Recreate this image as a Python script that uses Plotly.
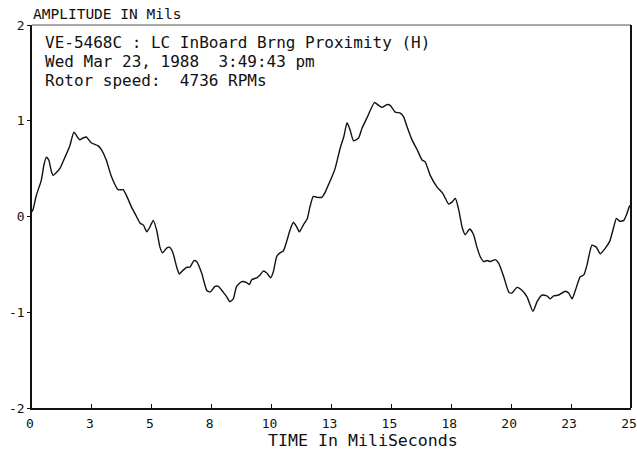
import plotly.graph_objects as go

# Time (ms) and amplitude (mils)
time_ms = [0.00, 0.04, 0.18, 0.39, 0.50, 0.60, 0.70, 0.81, 0.88, 1.16, 1.36, 1.57, 1.75, 1.99, 2.13, 2.27,
           2.47, 2.75, 2.89, 3.10, 3.31, 3.59, 3.80, 3.94, 4.15, 4.30, 4.51, 4.65, 4.79, 4.92, 5.06, 5.20,
           5.34, 5.45, 5.62, 5.73, 5.87, 6.04, 6.15, 6.31, 6.46, 6.59, 6.76, 6.87, 7.08, 7.29, 7.43, 7.64,
           7.78, 7.98, 8.13, 8.26, 8.40, 8.54, 8.75, 8.96, 9.07, 9.17, 9.38, 9.52, 9.65, 9.80, 9.96, 10.07,
           10.21, 10.35, 10.49, 10.63, 10.77, 10.91, 11.05, 11.16, 11.32, 11.49, 11.60, 11.74, 11.91, 12.09,
           12.23, 12.37, 12.51, 12.65, 12.78, 12.87, 13.01, 13.15, 13.28, 13.42, 13.63, 13.77, 13.98, 14.29,
           14.47, 14.61, 14.82, 14.95, 15.16, 15.37, 15.51, 15.65, 15.86, 16.07, 16.28, 16.41, 16.62, 16.90,
           17.15, 17.25, 17.39, 17.53, 17.67, 17.81, 17.95, 18.08, 18.27, 18.43, 18.57, 18.71, 18.85, 18.99,
           19.13, 19.34, 19.48, 19.69, 19.90, 20.03, 20.24, 20.45, 20.66, 20.91, 21.08, 21.29, 21.49, 21.63,
           21.77, 21.98, 22.26, 22.40, 22.54, 22.68, 22.88, 23.03, 23.16, 23.37, 23.55, 23.72, 23.93, 24.11,
           24.28, 24.39, 24.53, 24.70, 24.83, 24.94, 25.00]
amplitude = [0.05, 0.07, 0.22, 0.38, 0.54, 0.62, 0.59, 0.47, 0.43, 0.50, 0.61, 0.73, 0.88, 0.80, 0.82, 0.83,
             0.77, 0.74, 0.70, 0.59, 0.42, 0.28, 0.28, 0.22, 0.10, 0.03, -0.07, -0.09, -0.16, -0.11, -0.04, -0.14,
             -0.32, -0.38, -0.33, -0.32, -0.37, -0.53, -0.60, -0.56, -0.53, -0.53, -0.46, -0.47, -0.59, -0.77, -0.79, -0.73,
             -0.73, -0.79, -0.84, -0.89, -0.86, -0.73, -0.68, -0.69, -0.71, -0.66, -0.64, -0.61, -0.57, -0.59, -0.64, -0.58,
             -0.42, -0.38, -0.36, -0.26, -0.14, -0.06, -0.11, -0.16, -0.09, -0.02, 0.10, 0.21, 0.20, 0.20,
             0.25, 0.33, 0.41, 0.50, 0.63, 0.72, 0.83, 0.98, 0.90, 0.79, 0.82, 0.92, 1.03, 1.19,
             1.16, 1.14, 1.17, 1.16, 1.09, 1.08, 1.04, 0.94, 0.80, 0.70, 0.59, 0.57, 0.43, 0.31,
             0.24, 0.19, 0.13, 0.15, 0.19, 0.07, -0.11, -0.19, -0.13, -0.19, -0.32, -0.42, -0.47, -0.46,
             -0.47, -0.45, -0.49, -0.63, -0.79, -0.80, -0.74, -0.77, -0.84, -0.99, -0.89, -0.82, -0.83, -0.86,
             -0.83, -0.82, -0.78, -0.80, -0.86, -0.77, -0.63, -0.61, -0.51, -0.30, -0.32, -0.39, -0.33, -0.26,
             -0.11, -0.02, -0.05, -0.04, 0.03, 0.11, 0.12]

x_tick_vals = [0, 2.5, 5, 7.5, 10, 12.5, 15, 17.5, 20, 22.5, 25]
x_tick_text = ["0", "3", "5", "8", "10", "13", "15", "18", "20", "23", "25"]
y_tick_vals = [-2, -1, 0, 1, 2]
y_tick_text = ["-2", "-1", "0", "1", "2"]

header_lines = ["VE-5468C : LC InBoard Brng Proximity (H)",
                "Wed Mar 23, 1988  3:49:43 pm",
                "Rotor speed:  4736 RPMs"]
y_title = "AMPLITUDE IN Mils"
x_title = "TIME In MiliSeconds"

FONT = "DejaVu Sans Mono"

fig = go.Figure()
fig.add_trace(go.Scatter(x=time_ms, y=amplitude, mode="lines",
                         line=dict(color="#111111", width=1.4, shape="spline", smoothing=0.5),
                         showlegend=False, hoverinfo="skip", cliponaxis=False))

fig.update_layout(
    width=637, height=451,
    margin=dict(l=32, r=6, t=25, b=43),
    paper_bgcolor="white", plot_bgcolor="white",
    font=dict(family=FONT, color="#111111", size=13),
    xaxis=dict(range=[0, 25], tickvals=x_tick_vals, ticktext=x_tick_text,
               automargin=False, ticklabeloverflow="allow", ticklabelstandoff=3,
               ticklabelshift=-2,
               showgrid=False, zeroline=False, showline=True, linecolor="#111111", linewidth=1.5,
               ticks="inside", ticklen=4, tickcolor="#111111",
               tickfont=dict(family=FONT, size=13)),
    yaxis=dict(range=[-2, 2], tickvals=y_tick_vals, ticktext=y_tick_text,
               automargin=False, ticklabeloverflow="allow",
               showgrid=False, zeroline=False, showline=True, linecolor="#111111", linewidth=1.5,
               ticks="outside", ticklen=3, tickcolor="#111111",
               tickfont=dict(family=FONT, size=13)),
    shapes=[
        dict(type="line", xref="paper", yref="paper", x0=0, x1=1, y0=1, y1=1,
             line=dict(color="#555555", width=1)),
        dict(type="line", xref="paper", yref="paper", x0=1, x1=1, y0=0, y1=1,
             line=dict(color="#111111", width=2)),
    ],
)

fig.add_annotation(text=y_title, xref="paper", yref="paper", x=-0.002, y=1.0285,
                   xanchor="left", yanchor="middle", showarrow=False,
                   font=dict(family=FONT, size=14.5, color="#111111"))

fig.add_annotation(text=x_title, xref="paper", yref="paper", x=0.5525, y=-0.085,
                   xanchor="center", yanchor="middle", showarrow=False,
                   font=dict(family=FONT, size=16.6, color="#111111"))

for line, ypos in zip(header_lines, [0.955, 0.906, 0.856]):
    fig.add_annotation(text=line, xref="paper", yref="paper", x=0.018, y=ypos,
                       xanchor="left", yanchor="middle", showarrow=False,
                       font=dict(family=FONT, size=16, color="#111111"))

# remove the page's default 8px body margin so the 637x451 figure fills the window exactly
fig.write_html("out.html", config={"displayModeBar": False},
               post_script="document.body.style.margin='0';document.body.style.overflow='hidden';")
